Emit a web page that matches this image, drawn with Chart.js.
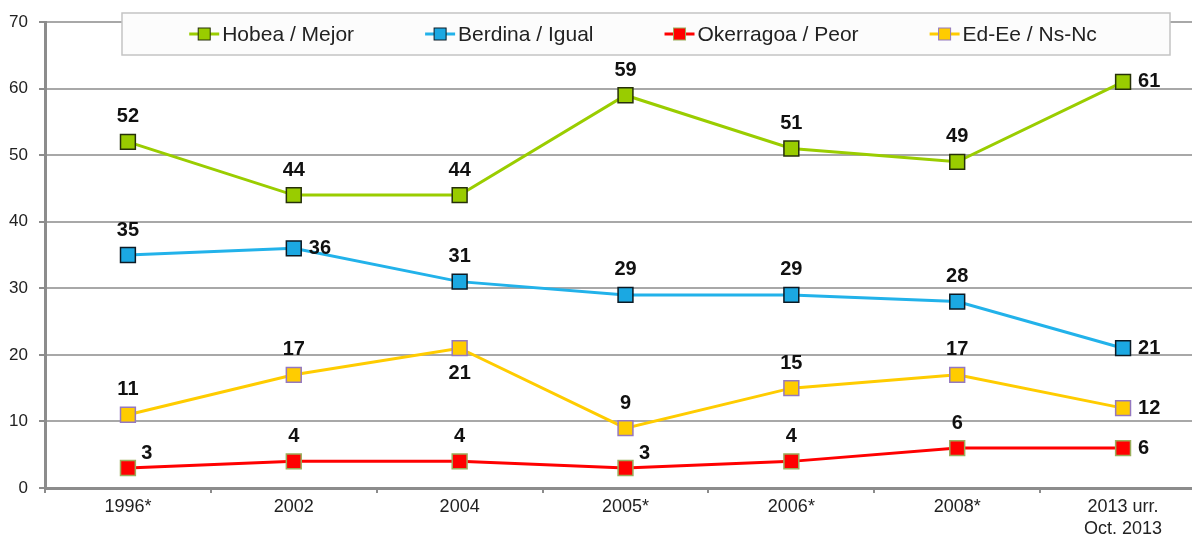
<!DOCTYPE html>
<html>
<head>
<meta charset="utf-8">
<script src="https://cdn.jsdelivr.net/npm/chart.js@4"></script>
<style>
  html, body { margin: 0; padding: 0; background: #fff; overflow: hidden; }
  #myChart { display: block; }
</style>
</head>
<body>
<canvas id="myChart" width="1218" height="538"></canvas>
<script>
'use strict';

// *Data* - categories and series
let categories = ['1996*', '2002', '2004', '2005*', '2006*', '2008*', ['2013 urr.', 'Oct. 2013']];
let seriesNames = ['Hobea / Mejor', 'Berdina / Igual', 'Okerragoa / Peor', 'Ed-Ee / Ns-Nc'];
let mejorValues = [52, 44, 44, 59, 51, 49, 61];
let igualValues = [35, 36, 31, 29, 29, 28, 21];
let peorValues = [3, 4, 4, 3, 4, 6, 6];
let nsncValues = [11, 17, 21, 9, 15, 17, 12];
let yMin = 0;
let yMax = 70;
let yStep = 10;

// where each value label goes relative to its point
let labelPlacement = [
  ['top', 'top', 'top', 'top', 'top', 'top', 'right'],
  ['top', 'right', 'top', 'top', 'top', 'top', 'right'],
  ['topright', 'top', 'top', 'topright', 'top', 'top', 'right'],
  ['top', 'top', 'bottom', 'top', 'top', 'top', 'right']
];

const FONT = "'Liberation Sans', Arial, sans-serif";
const ctx = document.getElementById('myChart');

function makeSeries(label, data, lineColor, fillColor, edgeColor) {
  return {
    label: label,
    data: data,
    borderColor: lineColor,
    backgroundColor: fillColor,
    borderWidth: 3,
    tension: 0,
    pointStyle: 'rect',
    pointRadius: 10.5,
    pointHoverRadius: 10.5,
    pointBackgroundColor: fillColor,
    pointBorderColor: edgeColor,
    pointBorderWidth: 1.5,
    clip: false
  };
}

// value labels next to the markers
const valueLabels = {
  id: 'valueLabels',
  afterDatasetsDraw(chart) {
    let c = chart.ctx;
    c.save();
    c.font = 'bold 20px ' + FONT;
    c.fillStyle = '#111';
    c.textBaseline = 'middle';
    chart.data.datasets.forEach((ds, d) => {
      let meta = chart.getDatasetMeta(d);
      meta.data.forEach((pt, i) => {
        let where = labelPlacement[d][i];
        let x = pt.x;
        let y = pt.y;
        c.textAlign = 'center';
        if (where === 'top') {
          y -= 25;
        } else if (where === 'bottom') {
          y += 25;
        } else if (where === 'right') {
          x += 15;
          c.textAlign = 'left';
        } else if (where === 'topright') {
          x += 19;
          y -= 15;
        }
        c.fillText(String(ds.data[i]), x, y);
      });
    });
    c.restore();
  }
};

// boxed legend that sits over the top of the plot
const boxLegend = {
  id: 'boxLegend',
  afterDraw(chart) {
    let c = chart.ctx;
    let boxL = 122, boxR = 1170, boxT = 13, boxB = 55;
    c.save();
    c.fillStyle = '#fcfcfc';
    c.fillRect(boxL, boxT, boxR - boxL, boxB - boxT);
    c.strokeStyle = '#c4c4c4';
    c.lineWidth = 1.5;
    c.strokeRect(boxL, boxT, boxR - boxL, boxB - boxT);

    c.font = '21px ' + FONT;
    c.textBaseline = 'middle';
    c.textAlign = 'left';
    let symW = 30, gapText = 3, gapItem = 71;
    let widths = chart.data.datasets.map(ds => c.measureText(ds.label).width);
    let total = widths.reduce((a, b) => a + b, 0) + chart.data.datasets.length * (symW + gapText) + gapItem * (widths.length - 1);
    let x = (boxL + boxR) / 2 - total / 2 - 3;
    let y = (boxT + boxB) / 2;
    chart.data.datasets.forEach((ds, d) => {
      c.strokeStyle = ds.borderColor;
      c.lineWidth = 3;
      c.beginPath();
      c.moveTo(x, y);
      c.lineTo(x + symW, y);
      c.stroke();
      c.fillStyle = ds.pointBackgroundColor;
      c.fillRect(x + symW / 2 - 6, y - 6, 12, 12);
      c.strokeStyle = ds.pointBorderColor;
      c.lineWidth = 1;
      c.strokeRect(x + symW / 2 - 6, y - 6, 12, 12);
      c.fillStyle = '#222';
      c.fillText(ds.label, x + symW + gapText, y + 1);
      x += symW + gapText + widths[d] + gapItem;
    });
    c.restore();
  }
};

let myChartObj = {
  type: 'line',
  data: {
    labels: categories,
    datasets: [
      makeSeries(seriesNames[0], mejorValues, '#9acd00', '#99cc00', '#26300a'),
      makeSeries(seriesNames[1], igualValues, '#22b2ea', '#1ba8e2', '#0c1a24'),
      makeSeries(seriesNames[2], peorValues, '#ff0000', '#ff0000', '#9aae5c'),
      makeSeries(seriesNames[3], nsncValues, '#ffcc00', '#ffcc00', '#9478c0')
    ]
  },
  options: {
    responsive: false,
    animation: false,
    events: [],
    layout: {
      padding: { top: 22, right: 3, left: 0, bottom: 0 }
    },
    plugins: {
      legend: { display: false },
      tooltip: { enabled: false }
    },
    scales: {
      x: {
        offset: true,
        grid: {
          display: true,
          offset: true,
          drawOnChartArea: false,
          drawTicks: true,
          tickLength: 5,
          color: '#8c8c8c',
          lineWidth: 2
        },
        border: { display: true, color: '#8c8c8c', width: 3 },
        ticks: {
          color: '#222',
          padding: 3,
          maxRotation: 0,
          autoSkip: false,
          font: { family: FONT, size: 18, lineHeight: 1.22 }
        },
        afterFit(scale) {
          scale.height = 50;
        }
      },
      y: {
        min: yMin,
        max: yMax,
        grid: {
          color: '#a8a8a8',
          lineWidth: 2,
          drawTicks: true,
          tickLength: 6,
          tickColor: '#8c8c8c'
        },
        border: { display: true, color: '#8c8c8c', width: 3 },
        ticks: {
          stepSize: yStep,
          color: '#222',
          padding: 11,
          font: { family: FONT, size: 17 }
        },
        afterFit(scale) {
          scale.width = 45;
        }
      }
    }
  },
  plugins: [valueLabels, boxLegend]
};

new Chart(ctx, myChartObj);
</script>
</body>
</html>
